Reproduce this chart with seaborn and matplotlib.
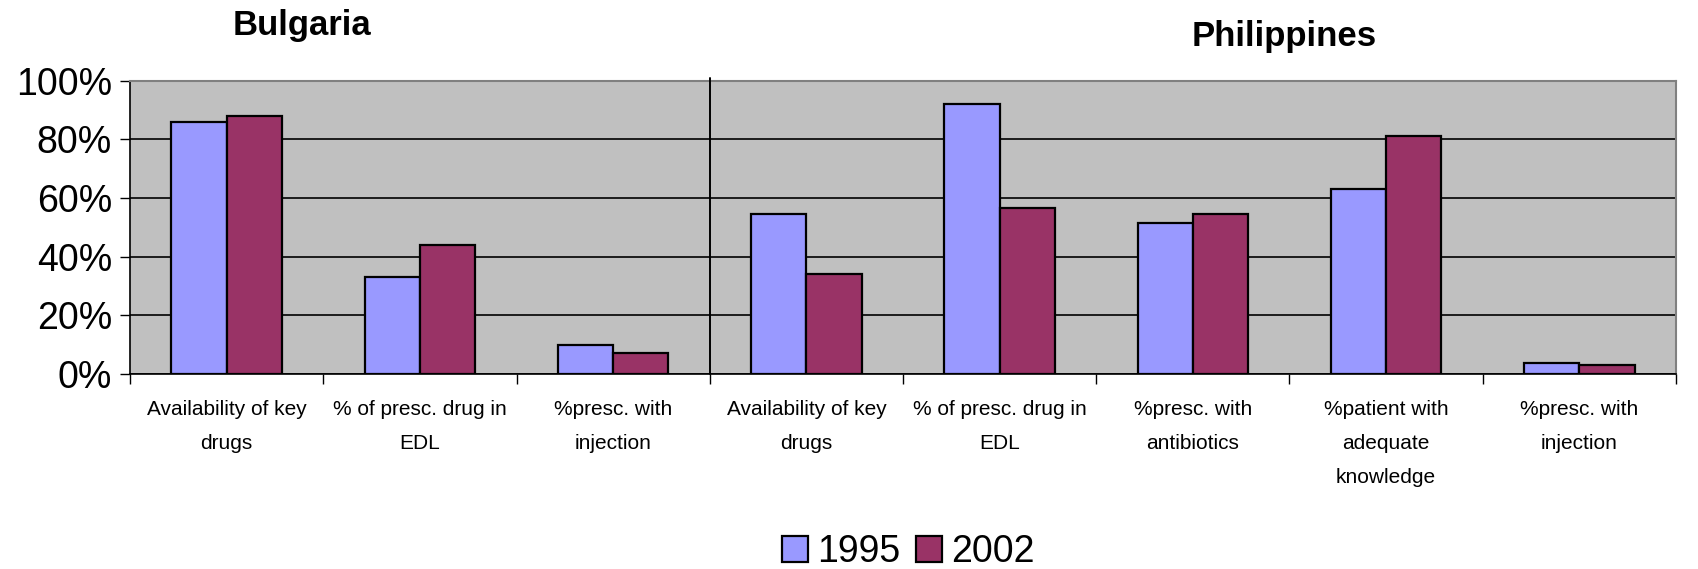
import matplotlib
matplotlib.use("Agg")
import matplotlib.pyplot as plt
import matplotlib.transforms as mtransforms
import seaborn as sns
import pandas as pd

# Indicator slots: three for Bulgaria, five for the Philippines
countries = ["Bulgaria"] * 3 + ["Philippines"] * 5
indicators = [
    "Availability of key\ndrugs",
    "% of presc. drug in\nEDL",
    "%presc. with\ninjection",
    "Availability of key\ndrugs",
    "% of presc. drug in\nEDL",
    "%presc. with\nantibiotics",
    "%patient with\nadequate\nknowledge",
    "%presc. with\ninjection",
]
values_1995 = [86, 33, 10, 54.5, 92, 51.5, 63, 3.8]
values_2002 = [88, 44, 7, 34, 56.5, 54.5, 81, 3]
years = ["1995", "2002"]
ytick_values = [0, 20, 40, 60, 80, 100]

slots = [f"{c}|{i}" for c, i in zip(countries, indicators)]
df = pd.DataFrame({
    "slot": slots * 2,
    "year": [years[0]] * len(slots) + [years[1]] * len(slots),
    "value": values_1995 + values_2002,
})

sns.set_style("white")
plt.rcParams["font.family"] = ["Liberation Sans", "DejaVu Sans"]
plt.rcParams["text.color"] = "black"
plt.rcParams["xtick.color"] = "black"
plt.rcParams["ytick.color"] = "black"
plt.rcParams["xtick.labelcolor"] = "black"
plt.rcParams["ytick.labelcolor"] = "black"

fig = plt.figure(figsize=(16.98, 5.69), dpi=100)
ax = fig.add_axes([0.0766, 0.343, 0.9104, 0.515])
ax.set_facecolor("#C0C0C0")

sns.barplot(
    data=df, x="slot", y="value", hue="year", order=slots, hue_order=years,
    palette={"1995": "#9999FF", "2002": "#993366"}, saturation=1,
    width=0.572, gap=0, edgecolor="black", linewidth=1.6, ax=ax, zorder=3,
)

ax.set_ylim(0, 100)
ax.set_xlim(-0.5, len(slots) - 0.5)
ax.set_yticks(ytick_values)
ax.set_yticklabels([f"{v}%" for v in ytick_values], fontsize=27)
ax.yaxis.grid(True, color="black", linewidth=1.2, zorder=1)
ax.set_axisbelow(True)

# category labels at the centres, tick marks at the boundaries
ax.set_xticks(range(len(slots)))
ax.set_xticklabels(indicators, fontsize=15, linespacing=2.0, va="top")
ax.set_xticks([i - 0.5 for i in range(len(slots) + 1)], minor=True)
ax.tick_params(axis="x", which="major", length=0, pad=19)
ax.tick_params(axis="x", which="minor", length=7, width=1, color="black", direction="out", bottom=True)
ax.tick_params(axis="y", length=7, width=1, color="black", direction="out", left=True, pad=6)
ax.set_xlabel("")
ax.set_ylabel("")

for side in ["top", "right"]:
    ax.spines[side].set_color("#808080")
    ax.spines[side].set_linewidth(1.5)
for side in ["left", "bottom"]:
    ax.spines[side].set_color("black")
    ax.spines[side].set_linewidth(1.2)

# divider between the two countries
trans = mtransforms.blended_transform_factory(ax.transData, ax.transAxes)
ax.plot([2.5, 2.5], [0, 1.01], color="black", linewidth=1.4, transform=trans,
        clip_on=False, zorder=4)

fig.text(0.178, 0.955, "Bulgaria", fontsize=25, fontweight="bold", ha="center", va="center")
fig.text(0.756, 0.935, "Philippines", fontsize=25, fontweight="bold", ha="center", va="center")

handles, labels = ax.get_legend_handles_labels()
ax.legend_.remove()
fig.legend(handles, labels, loc="center", bbox_to_anchor=(0.535, 0.03), ncol=2,
           frameon=False, fontsize=27, handlelength=0.7, handleheight=0.7,
           handletextpad=0.25, columnspacing=0.4)

fig.savefig("out.png", dpi=100, facecolor="white")
